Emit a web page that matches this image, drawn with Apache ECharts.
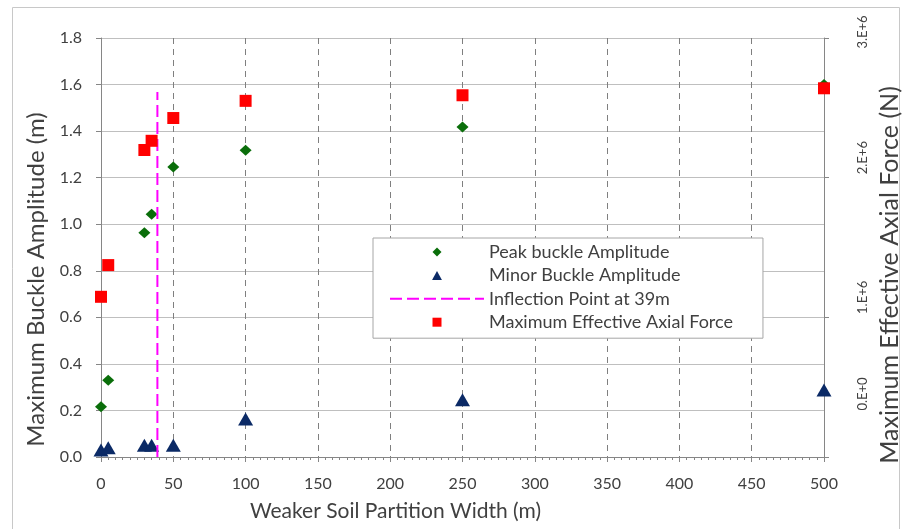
<!DOCTYPE html>
<html><head><meta charset="utf-8">
<script src="https://cdn.jsdelivr.net/npm/echarts@6/dist/echarts.min.js"></script>
<style>html,body{margin:0;padding:0;background:#fff}#c{width:903px;height:529px}</style>
</head><body><div id="c"></div>
<script>
// Data
const widths = [0, 5, 30, 35, 50, 100, 250, 500];
const peakAmp = [0.216, 0.33, 0.963, 1.043, 1.246, 1.318, 1.418, 1.60];
const minorAmp = [0.03, 0.04, 0.05, 0.05, 0.05, 0.163, 0.246, 0.288];
const axialForce = [1.147e6, 1.374e6, 2.198e6, 2.264e6, 2.427e6, 2.55e6, 2.59e6, 2.64e6];
const inflectionX = [39, 39];
const inflectionY = [0, 1.568];
const forceTickValues = [0, 1e6, 2e6, 3e6];
const forceTickLabels = ['0.E+0', '1.E+6', '2.E+6', '3.E+6'];
const seriesNames = ['Peak buckle Amplitude', 'Minor Buckle Amplitude', 'Inflection Point at 39m', 'Maximum Effective Axial Force'];

const FONT = 'Lato, "Open Sans", sans-serif';
const TXT = '#404040';
const zip = (xs, ys) => xs.map((x, i) => [x, ys[i]]);
const labelShift = [126, 40, 40, 12];

const chart = echarts.init(document.getElementById('c'));
chart.setOption({
  animation: false,
  backgroundColor: '#fff',
  graphic: [{type: 'rect', shape: {x: 12.5, y: 7.5, width: 887, height: 540}, style: {fill: null, stroke: '#c8c8c8', lineWidth: 1}, z: -1}],
  grid: {left: 101, right: 79, top: 38, bottom: 72, containLabel: false, outerBoundsMode: 'none'},
  legend: {
    orient: 'vertical', left: 373, top: 238,
    backgroundColor: '#fff', borderColor: '#a6a6a6', borderWidth: 1,
    padding: [5, 30, 7, 16], itemWidth: 94, itemHeight: 9, itemGap: 5.4,
    textStyle: {fontFamily: FONT, fontSize: 18, color: TXT},
    data: [
      {name: seriesNames[0], icon: 'path://M0,-1L1,0L0,1L-1,0Z'},
      {name: seriesNames[1], icon: 'path://M0,0L1.1,2L-1.1,2Z'},
      {name: seriesNames[2], itemStyle: {opacity: 0}, lineStyle: {opacity: 1}},
      {name: seriesNames[3], icon: 'path://M0,0L1,0L1,1L0,1Z'}
    ]
  },
  xAxis: {
    type: 'value', min: 0, max: 500, interval: 50,
    name: 'Weaker Soil Partition Width (m)', nameLocation: 'middle', nameGap: 44,
    nameTextStyle: {fontFamily: FONT, fontSize: 21, color: TXT, padding: [0, 134, 0, 0]},
    axisLine: {show: true, onZero: false, lineStyle: {color: '#868686', width: 1}},
    axisTick: {show: true, length: 5, lineStyle: {color: '#868686'}},
    minorTick: {show: true, splitNumber: 10, length: 3, lineStyle: {color: '#868686'}},
    axisLabel: {fontFamily: FONT, fontSize: 16, color: TXT, margin: 19},
    splitLine: {show: true, lineStyle: {color: '#7f7f7f', type: [6, 5], width: 1}}
  },
  yAxis: [{
    type: 'value', min: 0, max: 1.8, interval: 0.2,
    name: 'Maximum Buckle Amplitude (m)', nameLocation: 'middle', nameGap: 47, nameRotate: 90,
    nameTextStyle: {fontFamily: FONT, fontSize: 24, color: TXT, padding: [0, 64, 0, 0]},
    axisLine: {show: true, lineStyle: {color: '#868686'}},
    axisTick: {show: true, length: 5, lineStyle: {color: '#868686'}},
    axisLabel: {fontFamily: FONT, fontSize: 16, color: TXT, margin: 19, formatter: v => v.toFixed(1)},
    splitLine: {show: true, lineStyle: {color: '#bfbfbf', width: 1}}
  }, {
    type: 'value', min: 0, max: 3e6, interval: 1e6, position: 'right',
    name: 'Maximum Effective Axial Force (N)', nameLocation: 'middle', nameGap: 52, nameRotate: 90,
    nameTextStyle: {fontFamily: FONT, fontSize: 25, color: TXT, padding: [0, 55, 0, 0]},
    axisLine: {show: true, lineStyle: {color: '#868686'}},
    axisTick: {show: true, length: 5, lineStyle: {color: '#868686'}},
    axisLabel: {
      rotate: 90, align: 'center', verticalAlign: 'middle', margin: 39,
      fontFamily: FONT, fontSize: 13, color: TXT,
      formatter: v => { const i = forceTickValues.indexOf(v); return i < 0 ? '' : '{r' + i + '|' + forceTickLabels[i] + '}'; },
      rich: {
        r0: {fontFamily: FONT, fontSize: 13, color: TXT, padding: [0, 0, 0, labelShift[0]]},
        r1: {fontFamily: FONT, fontSize: 13, color: TXT, padding: [0, 0, 0, labelShift[1]]},
        r2: {fontFamily: FONT, fontSize: 13, color: TXT, padding: [0, 0, 0, labelShift[2]]},
        r3: {fontFamily: FONT, fontSize: 13, color: TXT, padding: [0, 0, 0, labelShift[3]]}
      }
    },
    splitLine: {show: false}
  }],
  series: [{
    name: seriesNames[0], type: 'scatter', yAxisIndex: 0,
    symbol: 'diamond', symbolSize: [12, 11],
    itemStyle: {color: '#0a6e0a', opacity: 1},
    data: zip(widths, peakAmp), z: 3
  }, {
    name: seriesNames[1], type: 'scatter', yAxisIndex: 0,
    symbol: 'triangle', symbolSize: [15, 13],
    itemStyle: {color: '#0b2a66', opacity: 1},
    data: zip(widths, minorAmp), z: 3
  }, {
    name: seriesNames[2], type: 'line', yAxisIndex: 0,
    symbol: 'none', showSymbol: false,
    lineStyle: {color: '#ff00ff', width: 2, type: [12, 5]},
    itemStyle: {color: '#ff00ff'},
    data: zip(inflectionX, inflectionY), z: 4
  }, {
    name: seriesNames[3], type: 'scatter', yAxisIndex: 1,
    symbol: 'rect', symbolSize: 12,
    itemStyle: {color: '#ff0000', opacity: 1},
    data: zip(widths, axialForce), z: 5
  }]
});
</script>
</body></html>
